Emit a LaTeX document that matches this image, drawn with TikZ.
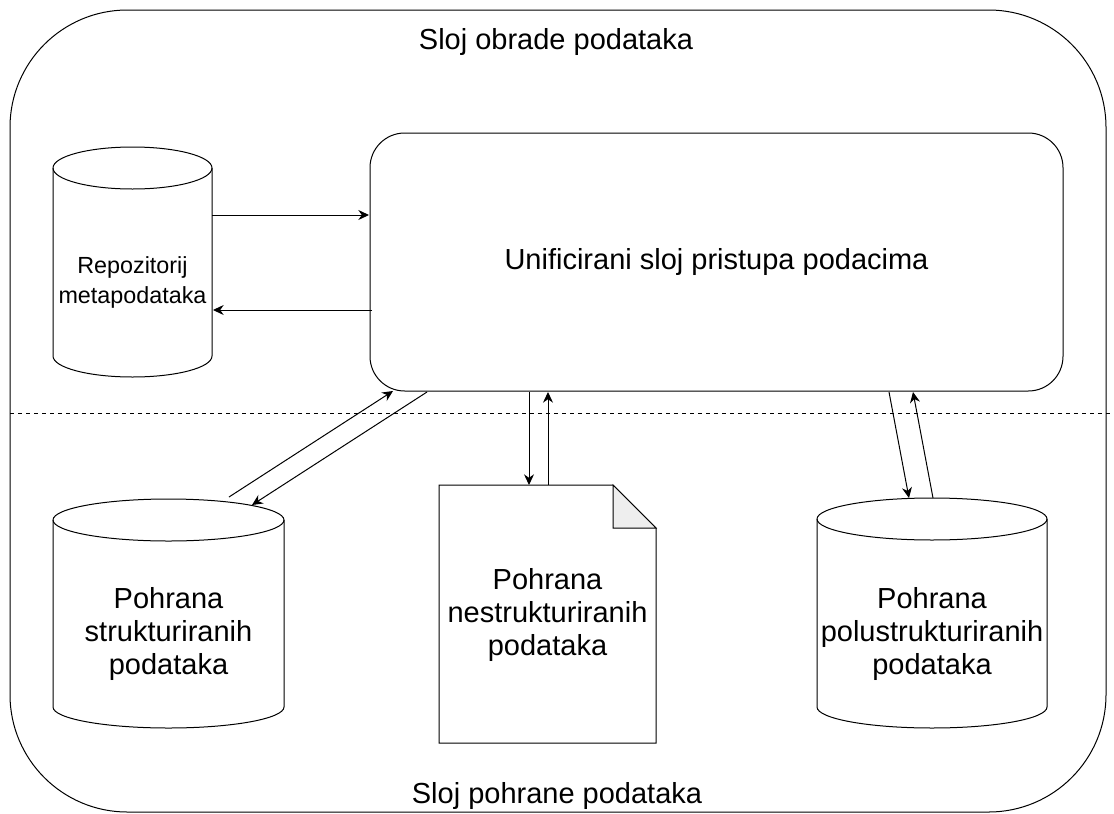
\documentclass[tikz,border=0pt]{standalone}
\usepackage{fontspec}
\setmainfont{Liberation Sans}
\usetikzlibrary{arrows.meta}

\definecolor{foldgray}{HTML}{EEEEEE}

\tikzset{
	layer/.style={draw, line width=0.75pt},
	flow/.style={-{Stealth[length=8pt,width=7.5pt]}, line width=0.75pt},
	divider/.style={line width=0.75pt, dash pattern=on 3pt off 3pt},
	bigtext/.style={font=\fontsize{21.75}{25}\selectfont, align=center},
	smalltext/.style={font=\fontsize{17.5}{22.5}\selectfont, align=center}
}

\begin{document}
\begin{tikzpicture}[x=0.75pt,y=-0.75pt]

	\useasboundingbox[fill=white] (0,0) rectangle (1114,814);

	\draw[layer, rounded corners=88pt] (10,10) rectangle (1106,812);
	\draw[divider] (10,413) -- (1114,413);

	\node[bigtext] (obrada) at (556,42) {Sloj obrade podataka};
	\node[bigtext] (pohrana) at (557,796) {Sloj pohrane podataka};

	\node[layer, rounded corners=26pt, minimum width=519.75pt, minimum height=193.5pt, bigtext] (uni) at (716.5,262) {Unificirani sloj pristupa podacima};

	% cylinders
	\foreach \xa/\xb/\ya/\yb in {53/212/147/377, 53/284/499/728, 817/1047/498/728} {
		\pgfmathsetmacro\rx{(\xb-\xa)*0.375}
		\draw[layer] (\xa,\ya+21) -- (\xa,\yb-21) arc[start angle=180, end angle=360, x radius=\rx pt, y radius=15.75pt] -- (\xb,\ya+21) arc[start angle=0, end angle=180, x radius=\rx pt, y radius=15.75pt] -- cycle;
		\draw[layer] (\xa,\ya+21) arc[start angle=180, end angle=360, x radius=\rx pt, y radius=15.75pt];
	}

	% document
	\draw[layer] (439,485) -- (613,485) -- (656,528) -- (656,743) -- (439,743) -- cycle;
	\draw[layer, fill=foldgray] (613,485) -- (613,528) -- (656,528) -- cycle;

	\node[smalltext] (meta) at (132.5,282) {Repozitorij\\metapodataka};
	\node[bigtext] (struk) at (168.5,634) {Pohrana\\strukturiranih\\podataka};
	\node[bigtext] (nestruk) at (547.5,615) {Pohrana\\nestrukturiranih\\podataka};
	\node[bigtext] (polu) at (932,634) {Pohrana\\polustrukturiranih\\podataka};

	% connectors
	\coordinate (m1) at (212,215);
	\coordinate (u1) at (369,215);
	\coordinate (u2) at (372,310);
	\coordinate (m2) at (213,310);
	\coordinate (s1) at (229,497);
	\coordinate (u3) at (393,391);
	\coordinate (u4) at (427,392);
	\coordinate (s2) at (252,505);
	\coordinate (u5) at (529,392);
	\coordinate (n1) at (529,485);
	\coordinate (n2) at (548,485);
	\coordinate (u6) at (548,392);
	\coordinate (u7) at (889,392);
	\coordinate (p1) at (909,498);
	\coordinate (p2) at (933,498);
	\coordinate (u8) at (913,392);

	\draw[flow] (m1) -- (u1);
	\draw[flow] (u2) -- (m2);
	\draw[flow] (s1) -- (u3);
	\draw[flow] (u4) -- (s2);
	\draw[flow] (u5) -- (n1);
	\draw[flow] (n2) -- (u6);
	\draw[flow] (u7) -- (p1);
	\draw[flow] (p2) -- (u8);

\end{tikzpicture}
\end{document}
